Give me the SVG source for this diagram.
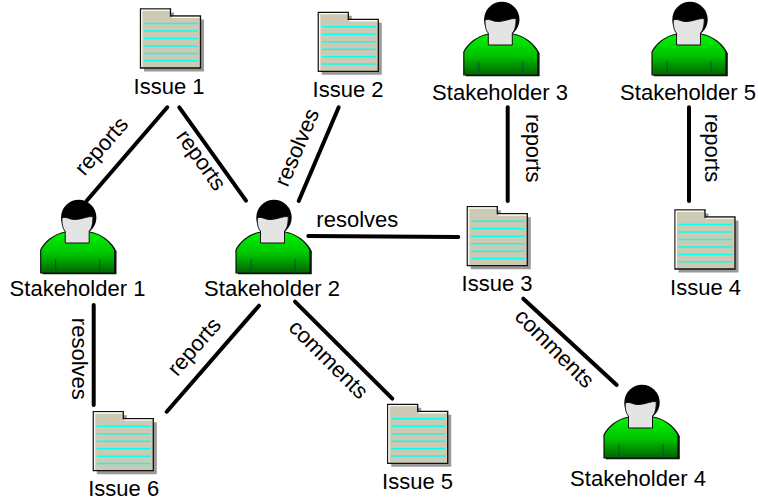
<svg xmlns="http://www.w3.org/2000/svg" width="758" height="501" viewBox="0 0 758 501">
<style>
text{font-family:"Liberation Sans",Arial,sans-serif;font-size:22px;fill:#000}
.m{text-anchor:middle}
.c line{stroke:#000;stroke-width:4;stroke-linecap:round}
.ln{stroke:#08fff0;stroke-width:1.500}
</style>
<defs>
<linearGradient id="g" x1="0" y1="0" x2="0" y2="1"><stop offset="0" stop-color="#00f800"/><stop offset=".55" stop-color="#00c000"/><stop offset="1" stop-color="#006400"/></linearGradient>
<g id="folder">
<path d="M3.500 3.500H33.500V10.500H63.500V62.500H3.500Z" fill="#999"/>
<path d="M0 0H30V7H60V59H0Z" fill="#cccab4" stroke="#111" stroke-width="1.300"/>
<path d="M1.300 58V1.300H29M31 8.400H59" stroke="#f8f8ee" stroke-width="1.400" fill="none"/>
<path class="ln" d="M3.400 14.500H57.400M3.400 22H57.400M3.400 29.500H57.400M3.400 37H57.400M3.400 44.500H57.400M3.400 51.700H57.400"/>
</g>
<g id="person">
<path d="M-37 75V52C-33 44-24 36-12 34H12C24 36 33 44 37 52V75Z" fill="#111" transform="translate(1.800 1.200)"/>
<path d="M-37 75V52C-33 44-24 36-12 34H12C24 36 33 44 37 52V75Z" fill="url(#g)" stroke="#111" stroke-width="1.200"/>
<path d="M-22 61V75M22 61V75" stroke="#053" stroke-width="1.100"/>
<circle cx="1" cy="19.400" r="17.700" fill="#000"/>
<path d="M-15.800 20C-11 18-8 22-2 21.500C5 21 10 18 15.200 18.500C15.500 25 14 31 11.500 33V45H-12.500V33C-15 31-16 25-15.800 20Z" fill="#e4e4e4" stroke="#111" stroke-width="1"/>
</g>
</defs>
<g id="connectors" class="c">
<line x1="167.300" y1="107.300" x2="86.700" y2="200.700"/>
<line x1="179.300" y1="107.300" x2="246" y2="200.700"/>
<line x1="338.700" y1="107.300" x2="298.700" y2="201"/>
<line x1="308.300" y1="236" x2="458.300" y2="237"/>
<line x1="507.700" y1="107.300" x2="507.700" y2="201"/>
<line x1="689" y1="107.300" x2="689" y2="201"/>
<line x1="93.700" y1="305" x2="93.700" y2="405"/>
<line x1="259" y1="305.700" x2="166.700" y2="411.700"/>
<line x1="295" y1="301.700" x2="392.300" y2="398.700"/>
<line x1="523.300" y1="298.700" x2="616.700" y2="385"/>
</g>
<g id="edge-labels">
<text class="m" transform="translate(107 150.800) rotate(-49)">reports</text>
<text class="m" transform="translate(195.300 164.300) rotate(54.500)">reports</text>
<text class="m" transform="translate(303.600 150.300) rotate(-67)">resolves</text>
<text class="m" x="357.300" y="226.700">resolves</text>
<text class="m" transform="translate(526 148.300) rotate(90)">reports</text>
<text class="m" transform="translate(705.300 148) rotate(90)">reports</text>
<text class="m" transform="translate(72.300 358.800) rotate(90)">resolves</text>
<text class="m" transform="translate(199.700 351.500) rotate(-49)">reports</text>
<text class="m" transform="translate(323.300 364.500) rotate(45)">comments</text>
<text class="m" transform="translate(549.300 353.500) rotate(45)">comments</text>
</g>
<g id="issue1"><use href="#folder" x="140.500" y="9"/><text class="m" x="169" y="94">Issue 1</text></g>
<g id="issue2"><use href="#folder" x="318.300" y="12.300"/><text class="m" x="348" y="97">Issue 2</text></g>
<g id="issue3"><use href="#folder" x="467.300" y="206.700"/><text class="m" x="497" y="291">Issue 3</text></g>
<g id="issue4"><use href="#folder" x="675" y="210"/><text class="m" x="705.500" y="295">Issue 4</text></g>
<g id="issue5"><use href="#folder" x="387.700" y="404.300"/><text class="m" x="417.500" y="489">Issue 5</text></g>
<g id="issue6"><use href="#folder" x="93.300" y="411.700"/><text class="m" x="123.700" y="496">Issue 6</text></g>
<g id="stakeholder1"><use href="#person" x="77.700" y="198"/><text class="m" x="77.500" y="296">Stakeholder 1</text></g>
<g id="stakeholder2"><use href="#person" x="273" y="198"/><text class="m" x="272" y="296">Stakeholder 2</text></g>
<g id="stakeholder3"><use href="#person" x="500.800" y="0"/><text class="m" x="500" y="99.700">Stakeholder 3</text></g>
<g id="stakeholder4"><use href="#person" x="641" y="383"/><text class="m" x="638" y="486">Stakeholder 4</text></g>
<g id="stakeholder5"><use href="#person" x="689" y="0"/><text class="m" x="688" y="99.700">Stakeholder 5</text></g>
</svg>
